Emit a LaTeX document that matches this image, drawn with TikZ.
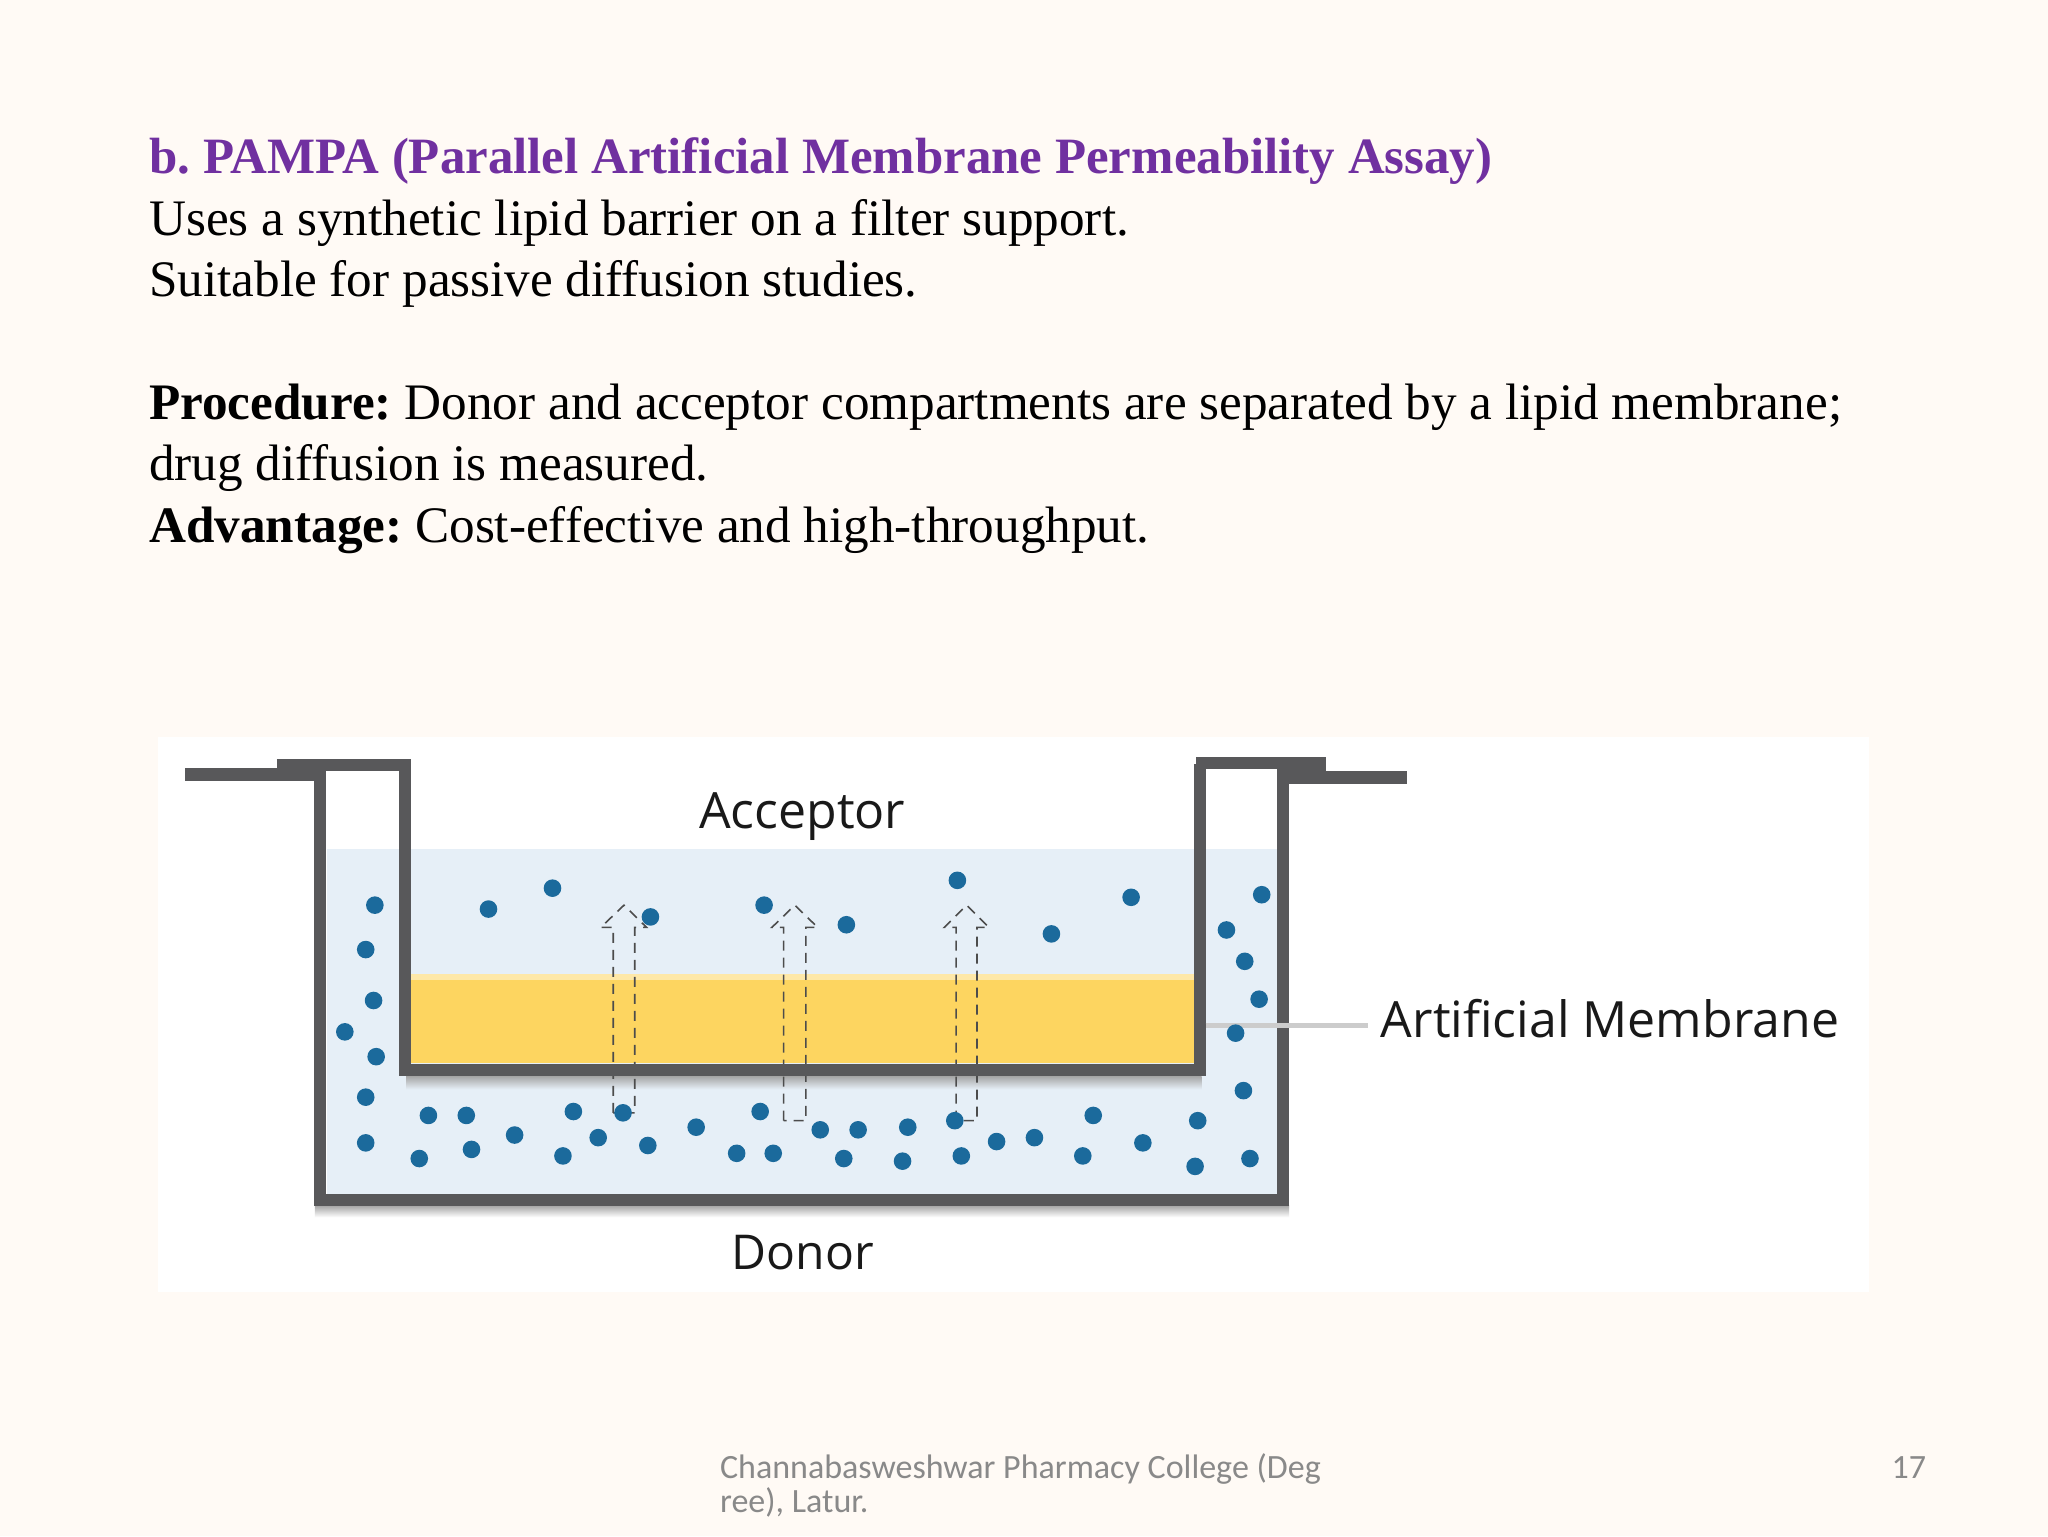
\documentclass[tikz,border=0pt]{standalone}
\usepackage{fontspec}
\setmainfont{Liberation Serif}
\newfontfamily\footfont{Carlito}
\newfontfamily\labelfont{Open Sans}
\definecolor{slidebg}{HTML}{FFFAF5}
\definecolor{titlepurple}{HTML}{7030A0}
\definecolor{liquidblue}{HTML}{E6EFF7}
\definecolor{lipidyellow}{HTML}{FDD560}
\definecolor{wallgray}{HTML}{58585A}
\definecolor{dotblue}{HTML}{1B6A9C}
\definecolor{footgray}{HTML}{898989}
\tikzset{
	bodytext/.style={anchor=base west,inner sep=0pt,font=\fontsize{25.6}{30}\selectfont\frenchspacing},
	titletext/.style={bodytext,text=titlepurple,font=\fontsize{25.46}{30}\selectfont\bfseries\frenchspacing},
	figlabel/.style={anchor=base west,inner sep=0pt,text=black!90,font=\labelfont\fontsize{25}{29}\selectfont},
	foottext/.style={anchor=base west,inner sep=0pt,text=footgray,font=\footfont\fontsize{17}{19}\selectfont},
	wall/.style={line width=6pt,color=wallgray,line cap=butt,line join=miter},
	flange/.style={line width=6.5pt,color=wallgray},
	pore/.style={line width=0.8pt,color=black!70,dash pattern=on 5pt off 3.5pt},
	memline/.style={line width=2.6pt,color=black!20,shorten >=10*0.65306pt}
}
\begin{document}
\begin{tikzpicture}[x=0.65306pt,y=-0.65306pt]
	\useasboundingbox (0,0) rectangle (1568,1176);
	\fill[slidebg] (0,0) rectangle (1568,1176);

	% slide text
	\node[titletext] (title) at (114,133) {b. PAMPA (Parallel Artificial Membrane Permeability Assay)};
	\node[bodytext] (lineone) at (114,180) {Uses a synthetic lipid barrier on a filter support.};
	\node[bodytext] (linetwo) at (114,227) {Suitable for passive diffusion studies.};
	\node[bodytext] (procedure) at (114,321) {\textbf{Procedure:} Donor and acceptor compartments are separated by a lipid membrane;};
	\node[bodytext] (procedurerest) at (114,368) {drug diffusion is measured.};
	\node[bodytext] (advantage) at (114,415) {\textbf{Advantage:} Cost-effective and high-throughput.};

	% picture panel
	\fill[white] (121,564) rectangle (1431,989);
	\fill[liquidblue] (250,650) rectangle (978,915);
	\fill[lipidyellow!55] (315,746) rectangle (914,750);
	\fill[lipidyellow] (315,750) rectangle (914,814);

	% shadows below the walls
	\shade[top color=black!35,bottom color=liquidblue] (311,824) rectangle (920,834);
	\shade[top color=black!35,bottom color=white] (241,923) rectangle (987,932);

	% dashed block arrows
	\foreach \ax/\bx/\hl/\hr/\by in {469.5/486/460/495/852,600/617/591/626/858,732/748/723/757/858}{
		\draw[pore] (\ax,\by) -- (\ax,710) -- (\hl,710) -- ({(\ax+\bx)/2},693) -- (\hr,710) -- (\bx,710) -- (\bx,\by) -- cycle;
	}

	% walls
	\draw[wall] (245,586) -- (245,918.5) -- (982,918.5) -- (982,590);
	\draw[wall] (310,586) -- (310,819) -- (918.5,819) -- (918.5,585);
	\draw[wall] (212,586) -- (315,586);
	\draw[wall] (916,584.5) -- (1015,584.5);
	\draw[flange] (142,593) -- (245,593);
	\draw[flange] (982,595.5) -- (1077,595.5);
	\fill[wallgray] (978,580) rectangle (1015,598);

	% labels
	\node[figlabel] (acceptor) at (535,634) {Acceptor};
	\node[figlabel,font=\labelfont\fontsize{24}{28}\selectfont] (donor) at (560,972) {Donor};
	\node[figlabel] (membrane) at (1057,794) {Artificial Membrane};
	\coordinate (memstart) at (923,785);
	\draw[memline] (memstart) -- (memstart -| membrane.west);

	% molecules, left channel and acceptor
	\foreach \dx/\dy in {287/693,280/727,286/766,264/790,288/809,280/840,280/875,
		374/696,423/680,498/702,585/693,648/708,733/674,805/715,866/687}{
		\fill[dotblue] (\dx,\dy) circle (4.4pt);
	}
	% molecules, right channel
	\foreach \dx/\dy in {966/685,939/712,953/736,964/765,946/791,952/835,917/858,957/887,915/893}{
		\fill[dotblue] (\dx,\dy) circle (4.4pt);
	}
	% molecules, donor
	\foreach \dx/\dy in {328/854,357/854,321/887,361/880,394/869,439/851,477/852,458/871,431/885,496/877,
		533/863,582/851,564/883,592/883,628/865,657/865,646/887,695/863,691/889,731/858,736/885,763/874,
		792/871,837/854,829/885,875/875}{
		\fill[dotblue] (\dx,\dy) circle (4.4pt);
	}

	% footer
	\node[foottext] (footone) at (551,1132) {Channabasweshwar Pharmacy College (Deg};
	\node[foottext] (foottwo) at (551,1158) {ree), Latur.};
	\node[foottext] (pagenum) at (1448,1132) {17};
\end{tikzpicture}
\end{document}
